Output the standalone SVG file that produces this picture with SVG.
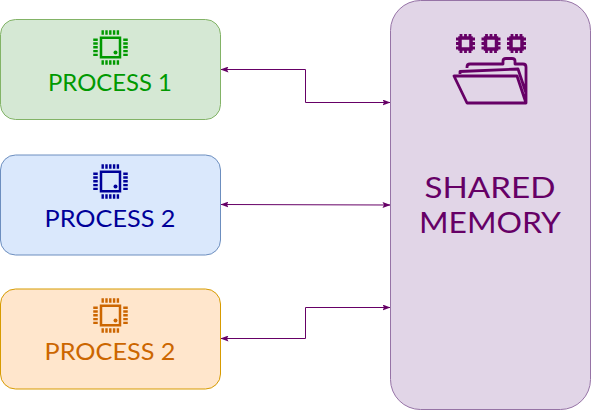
<svg xmlns="http://www.w3.org/2000/svg" width="592" height="412" viewBox="0 0 592 412">
<style>
.box{stroke-width:1}
.lbl{font-family:Lato,"Open Sans",sans-serif;font-size:24px;text-anchor:middle}
.big{font-family:Lato,"Open Sans",sans-serif;font-size:29px;text-anchor:middle;fill:#660066}
.conn{fill:none;stroke:#660066;stroke-width:1}
.body{fill:none;stroke:currentColor;stroke-width:2.500}
.pins{fill:none;stroke:currentColor;stroke-width:4.500;stroke-dasharray:2.400 1.400}
.mi{fill:none;stroke:#660066;stroke-width:2.800;stroke-linejoin:round}
</style>
<defs>
<marker id="a" markerWidth="8" markerHeight="6" refX="7.500" refY="3" orient="auto-start-reverse" markerUnits="userSpaceOnUse"><path d="M0 0L8 3L0 6L1.500 3Z" fill="#660066"/></marker>
<g id="chip">
<rect class="body" x="-9.500" y="-9.750" width="19" height="19.500"/>
<circle cx="5" cy="5" r="2" fill="currentColor"/>
<path class="pins" d="M-9 -15H10M-9 15H10M-15 -9V10M15 -9V10"/>
</g>
<g id="mchip">
<rect x="-5.500" y="-5.500" width="11" height="11" fill="none" stroke="#660066" stroke-width="3.500"/>
<path d="M-9.500 -4.500H-6M-9.500 0H-6M-9.500 4.500H-6M6 -4.500H9.500M6 0H9.500M6 4.500H9.500M-4.500 -9.500V-6M0 -9.500V-6M4.500 -9.500V-6M-4.500 6V9.500M0 6V9.500M4.500 6V9.500" stroke="#660066" stroke-width="2.800" fill="none"/>
</g>
</defs>
<g id="connectors">
<path class="conn" d="M221 69.500H305.500V102.500H390" marker-start="url(#a)" marker-end="url(#a)"/>
<path class="conn" d="M221 204.500L390 205" marker-start="url(#a)" marker-end="url(#a)"/>
<path class="conn" d="M221 338.500H305.500V307.500H390" marker-start="url(#a)" marker-end="url(#a)"/>
</g>
<g id="process1">
<rect class="box" x="0.500" y="19.500" width="220" height="100" rx="15" fill="#d5e8d4" stroke="#82b366"/>
<use href="#chip" x="110.500" y="47.500" color="#009900"/>
<text class="lbl" x="110" y="91" fill="#009900" textLength="124" lengthAdjust="spacingAndGlyphs">PROCESS 1</text>
</g>
<g id="process2a">
<rect class="box" x="0.500" y="155" width="220" height="100" rx="15" fill="#dae8fc" stroke="#6c8ebf"/>
<use href="#chip" x="110.500" y="181.500" color="#000099"/>
<text class="lbl" x="110" y="227" fill="#000099" textLength="131" lengthAdjust="spacingAndGlyphs">PROCESS 2</text>
</g>
<g id="process2b">
<rect class="box" x="0.500" y="289" width="220" height="100" rx="15" fill="#ffe6cc" stroke="#d79b00"/>
<use href="#chip" x="110.500" y="315.500" color="#CC6600"/>
<text class="lbl" x="110" y="360" fill="#CC6600" textLength="131" lengthAdjust="spacingAndGlyphs">PROCESS 2</text>
</g>
<g id="shared-memory">
<rect x="390.500" y="0.500" width="200" height="409" rx="30" fill="#e1d5e7" stroke="#9673a6"/>
<use href="#mchip" x="465.500" y="43.500"/>
<use href="#mchip" x="491" y="43.500"/>
<use href="#mchip" x="516.500" y="43.500"/>
<path class="mi" d="M467 68V67Q467 64 470 64H503V61Q503 58.500 506 58.500H512Q515 58.500 515 61V64H523Q526 64 526 67V103H467L454 76H517L526 103M460 74V71.500L518 69L526 93"/>
<text class="big" x="490" y="198" textLength="131" lengthAdjust="spacingAndGlyphs">SHARED</text>
<text class="big" x="490" y="233" textLength="142" lengthAdjust="spacingAndGlyphs">MEMORY</text>
</g>
</svg>
